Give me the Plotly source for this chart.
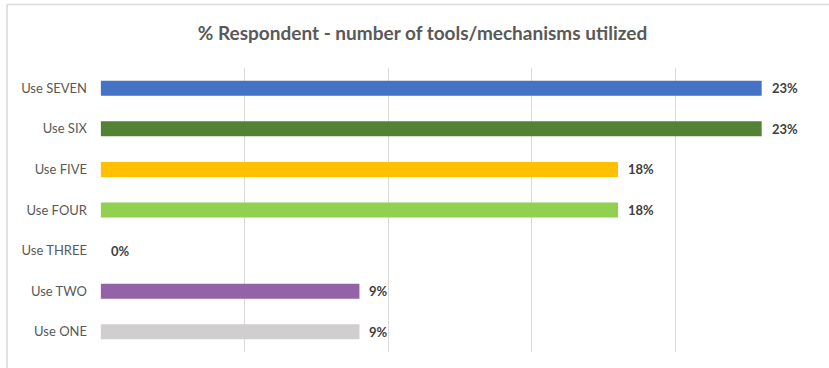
import plotly.graph_objects as go

categories = ["Use ONE", "Use TWO", "Use THREE", "Use FOUR", "Use FIVE", "Use SIX", "Use SEVEN"]
values = [9, 9, 0, 18, 18, 23, 23]
colors = ["#D0CECE", "#9462A7", "#A5A5A5", "#92D050", "#FFC000", "#548235", "#4472C4"]
title_text = "% Respondent - number of tools/mechanisms utilized"

W, H = 829, 368
ml, mr, mt, mb = 100, 9, 68, 16
pw, ph = W - ml - mr, H - mt - mb

def px_x(x):
    return (x - ml) / pw

def px_y(y):
    return (H - mb - y) / ph

FONT = "Lato, 'Open Sans', sans-serif"

fig = go.Figure(go.Bar(
    y=categories, x=values, orientation="h",
    marker=dict(color=colors, line=dict(width=0)),
    hoverinfo="x+y",
))

for c, v in zip(categories, values):
    fig.add_annotation(x=v, y=c, xref="x", yref="y", text=f"<b>{v}%</b>",
                       showarrow=False, xanchor="left", yanchor="middle", xshift=8,
                       font=dict(family=FONT, size=13, color="#404040"))

fig.update_layout(
    width=W, height=H,
    margin=dict(l=ml, r=mr, t=mt, b=mb),
    paper_bgcolor="white", plot_bgcolor="white",
    bargap=0.63,
    showlegend=False,
    title=dict(text=f"<b>{title_text}</b>", x=422.5 / W, xanchor="center",
               y=1 - 33 / H, yanchor="middle", xref="container", yref="container",
               font=dict(family=FONT, size=19, color="#595959")),
    xaxis=dict(range=[-0.03, 25.03], tickvals=[0, 5, 10, 15, 20, 25], showticklabels=False, showgrid=True,
               gridcolor="#d9d9d9", gridwidth=1.3, zeroline=False, showline=False, fixedrange=True),
    yaxis=dict(showgrid=False, ticks="", ticklabelstandoff=12, showline=False,
               tickfont=dict(family=FONT, size=13, color="#595959")),
    shapes=[
        dict(type="line", xref="paper", yref="paper", x0=px_x(7), x1=px_x(830),
             y0=px_y(4.5), y1=px_y(4.5), line=dict(color="#d9d9d9", width=1.5)),
        dict(type="line", xref="paper", yref="paper", x0=px_x(7), x1=px_x(7),
             y0=px_y(4.5), y1=px_y(370), line=dict(color="#d9d9d9", width=1.5)),
    ],
)

fig.write_html("out.html", config={"displayModeBar": False},
               post_script="document.body.style.margin='0';document.body.style.overflow='hidden';")
